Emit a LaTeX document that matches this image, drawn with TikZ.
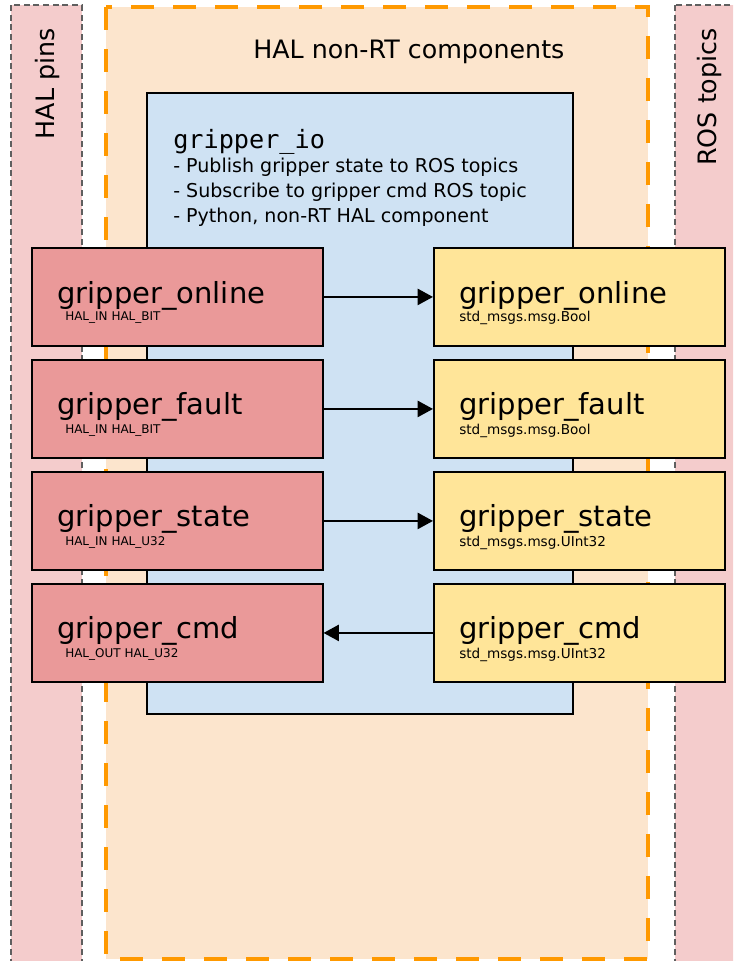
\documentclass[tikz,border=0pt]{standalone}
\usepackage{fontspec}
\setmainfont{DejaVu Sans}
\setmonofont{DejaVu Sans Mono}
\usetikzlibrary{arrows.meta,calc}

\definecolor{halred}{HTML}{EA9999}
\definecolor{rosyellow}{HTML}{FFE599}
\definecolor{compblue}{HTML}{CFE2F3}
\definecolor{peach}{HTML}{FCE5CD}
\definecolor{stripfill}{HTML}{F4CCCC}
\definecolor{stripline}{HTML}{5F5F5F}
\definecolor{dashorange}{HTML}{FF9900}

\newcommand{\bigtxt}{\fontsize{21.75}{26}\selectfont}
\newcommand{\pintxt}{\fontsize{9}{11}\selectfont}
\newcommand{\topictxt}{\fontsize{10.2}{12}\selectfont}
\newcommand{\titletxt}{\fontsize{19}{23}\selectfont}
\newcommand{\bullettxt}{\fontsize{14.3}{18}\selectfont}

\begin{document}
\begin{tikzpicture}[x=0.75pt,y=-0.75pt,
  strip/.style={fill=stripfill,draw=stripline,line width=1.9pt,dash pattern=on 4.5pt off 2.8pt},
  nonrt/.style={fill=peach,draw=dashorange,line width=3pt,dash pattern=on 17.25pt off 14.25pt},
  compbox/.style={fill=compblue,draw=black,line width=1.3pt},
  pinbox/.style={rectangle,draw=black,line width=1.4pt,fill=halred,
    minimum width=218pt,minimum height=73.5pt,anchor=north west,inner sep=0pt},
  topicbox/.style={pinbox,fill=rosyellow},
  bigname/.style={anchor=base west,inner sep=0pt,font=\bigtxt},
  pintype/.style={anchor=base west,inner sep=0pt,font=\pintxt},
  topictype/.style={anchor=base west,inner sep=0pt,font=\topictxt},
  sidelabel/.style={rotate=90,anchor=east,inner sep=0pt,font=\titletxt},
  flow/.style={line width=1.8pt,-{Triangle[length=11.5pt,width=12pt]}}
]
\useasboundingbox (0,0) rectangle (733,961);
\clip (0,0) rectangle (733,961);

% side strips: HAL pins (left) and ROS topics (right)
\path[strip] (11,5) rectangle (82,975);
\path[strip] (675,5) rectangle (745,975);
\node[sidelabel] (halpins) at (48,28) {HAL pins};
\node[sidelabel] (rostopics) at (710,28) {ROS topics};

% non-RT component area
\path[nonrt] (106,7) rectangle (648,959);
\node[anchor=base west,inner sep=0pt,font=\titletxt] (nonrttitle) at (253,58) {HAL non-RT components};

% gripper_io component
\path[compbox] (147,93) rectangle (573,714);
\node[anchor=base west,inner sep=0pt,font=\ttfamily\fontsize{18.9}{22}\selectfont] (ioname) at (173,148) {gripper\_io};
\node[anchor=base west,inner sep=0pt,font=\bullettxt] (io1) at (173,172) {- Publish gripper state to ROS topics};
\node[anchor=base west,inner sep=0pt,font=\bullettxt] (io2) at (173,197) {- Subscribe to gripper cmd ROS topic};
\node[anchor=base west,inner sep=0pt,font=\bullettxt] (io3) at (173,222) {- Python, non-RT HAL component};

% HAL pins
\node[pinbox] (p1) at (31,247) {};
\node[pinbox] (p2) at (31,359) {};
\node[pinbox] (p3) at (31,471) {};
\node[pinbox] (p4) at (31,583) {};
% ROS topics
\node[topicbox] (t1) at (433,247) {};
\node[topicbox] (t2) at (433,359) {};
\node[topicbox] (t3) at (433,471) {};
\node[topicbox] (t4) at (433,583) {};

% labels of the pins
\node[bigname] (p1n) at ($(p1.north west)+(26,56)$) {gripper\_online};
\node[pintype] (p1t) at ($(p1.north west)+(34,73)$) {HAL\_IN HAL\_BIT};
\node[bigname] (p2n) at ($(p2.north west)+(26,55)$) {gripper\_fault};
\node[pintype] (p2t) at ($(p2.north west)+(34,74)$) {HAL\_IN HAL\_BIT};
\node[bigname] (p3n) at ($(p3.north west)+(26,55)$) {gripper\_state};
\node[pintype] (p3t) at ($(p3.north west)+(34,74)$) {HAL\_IN HAL\_U32};
\node[bigname] (p4n) at ($(p4.north west)+(26,55)$) {gripper\_cmd};
\node[pintype] (p4t) at ($(p4.north west)+(34,74)$) {HAL\_OUT HAL\_U32};

% labels of the topics
\node[bigname] (t1n) at ($(t1.north west)+(26,56)$) {gripper\_online};
\node[topictype] (t1t) at ($(t1.north west)+(26,74)$) {std\_msgs.msg.Bool};
\node[bigname] (t2n) at ($(t2.north west)+(26,55)$) {gripper\_fault};
\node[topictype] (t2t) at ($(t2.north west)+(26,75)$) {std\_msgs.msg.Bool};
\node[bigname] (t3n) at ($(t3.north west)+(26,55)$) {gripper\_state};
\node[topictype] (t3t) at ($(t3.north west)+(26,75)$) {std\_msgs.msg.UInt32};
\node[bigname] (t4n) at ($(t4.north west)+(26,55)$) {gripper\_cmd};
\node[topictype] (t4t) at ($(t4.north west)+(26,75)$) {std\_msgs.msg.UInt32};

% data flow between pins and topics
\draw[flow] (p1.east) -- (t1.west);
\draw[flow] (p2.east) -- (t2.west);
\draw[flow] (p3.east) -- (t3.west);
\draw[flow] (t4.west) -- (p4.east);
\end{tikzpicture}
\end{document}
